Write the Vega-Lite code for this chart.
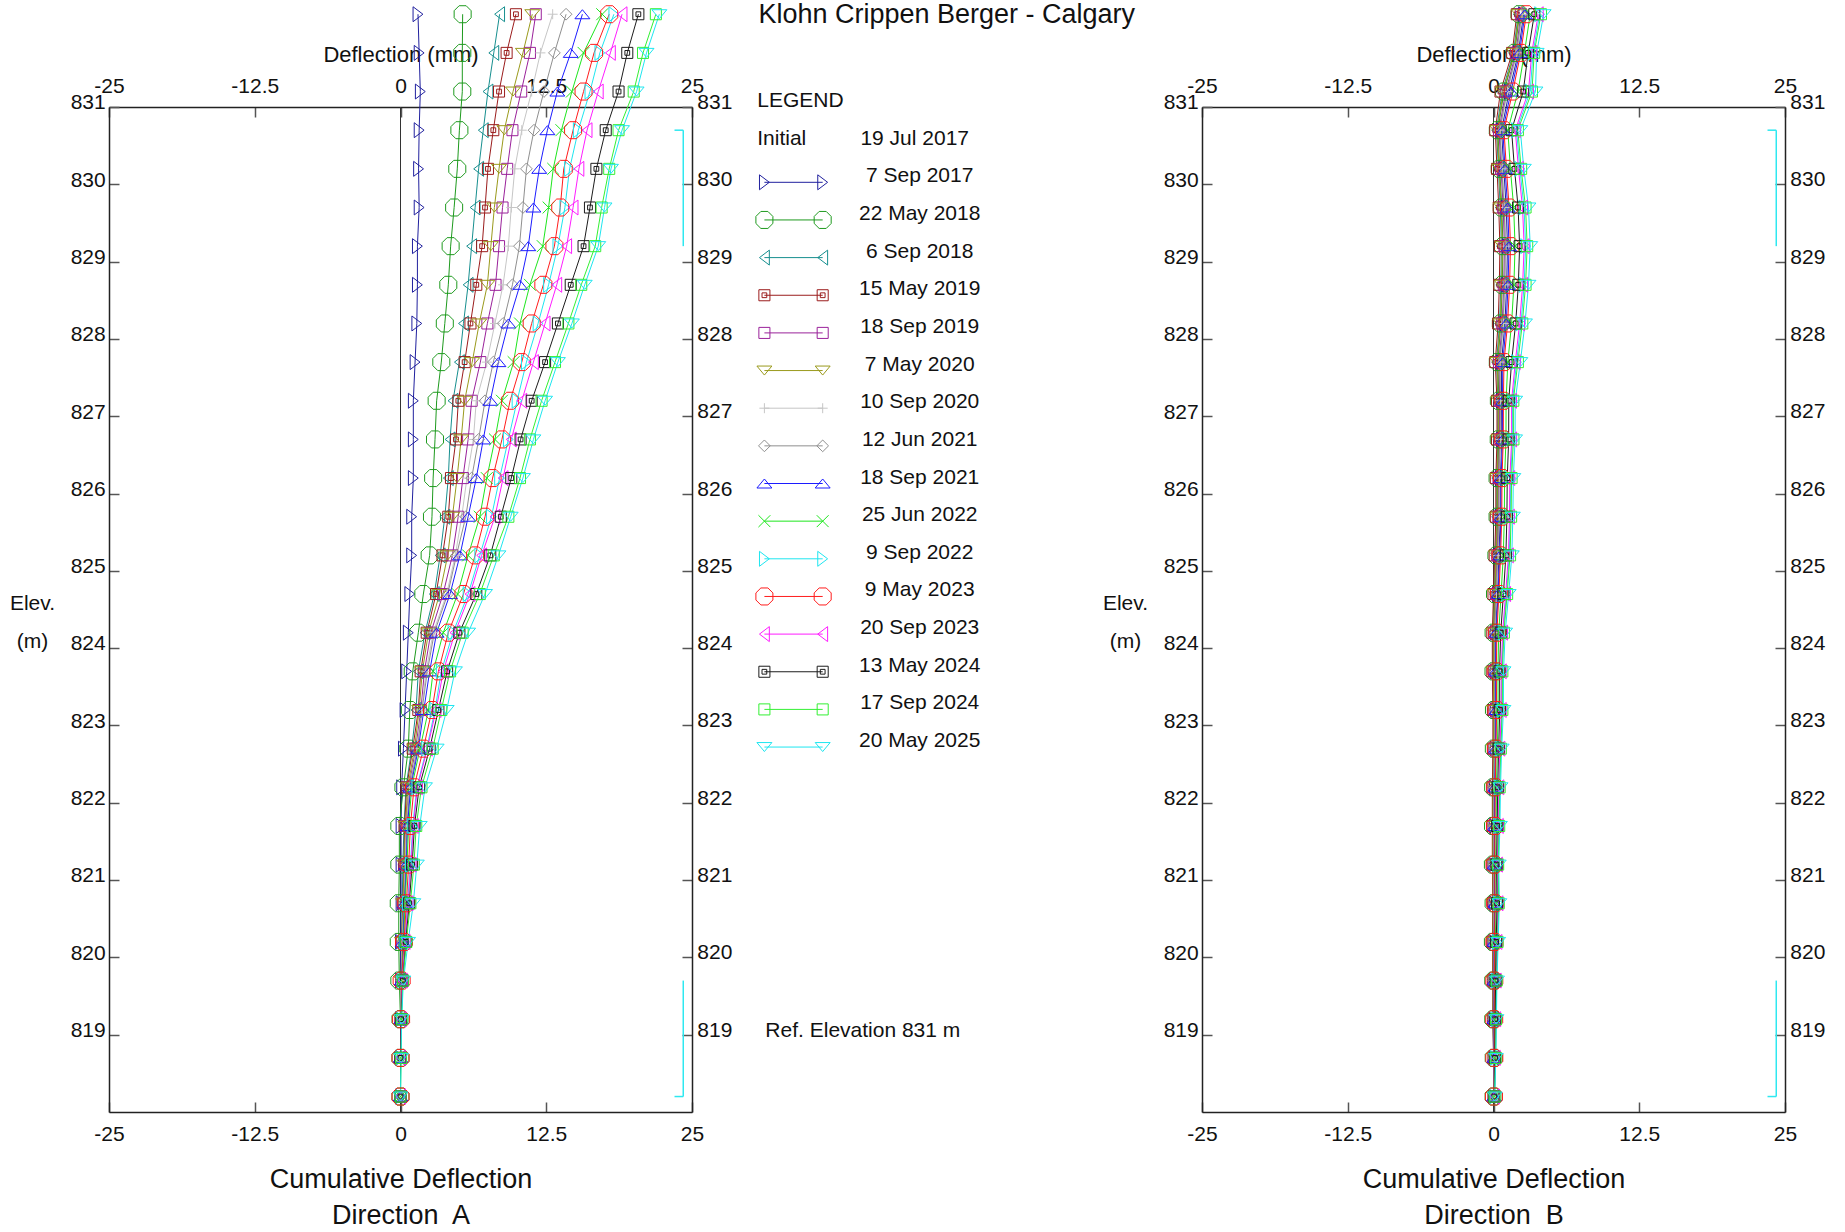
{
"$schema":"https://vega.github.io/schema/vega-lite/v6.json",
"background":"white",
"padding":{"left":9,"top":0,"right":10,"bottom":10},
"title":{"text":"Klohn Crippen Berger - Calgary","anchor":"middle","frame":"group","fontSize":27,"fontWeight":"normal","font":"Liberation Sans","color":"#111111","offset":-25,"dx":837.75},
"config":{"font":"Liberation Sans","view":{"stroke":null},
 "axis":{"labelFont":"Liberation Sans","labelFontSize":21,"labelColor":"#111111","titleFont":"Liberation Sans","titleFontWeight":"normal","titleColor":"#111111","grid":false,"domainColor":"#222222","domainWidth":1.5,"tickColor":"#555555","tickWidth":1.5,"tickSize":-10}},
"spacing":0,
"bounds":"flush",
"datasets":{
"leg":[{"d":"7 Sep 2017","k":1},{"d":"22 May 2018","k":2},{"d":"6 Sep 2018","k":3},{"d":"15 May 2019","k":4},{"d":"18 Sep 2019","k":5},{"d":"7 May 2020","k":6},{"d":"10 Sep 2020","k":7},{"d":"12 Jun 2021","k":8},{"d":"18 Sep 2021","k":9},{"d":"25 Jun 2022","k":10},{"d":"9 Sep 2022","k":11},{"d":"9 May 2023","k":12},{"d":"20 Sep 2023","k":13},{"d":"13 May 2024","k":14},{"d":"17 Sep 2024","k":15},{"d":"20 May 2025","k":16}],
"br":[{"x1":24.25,"x2":24.25,"y1":830.7,"y2":829.2},{"x1":23.5,"x2":24.25,"y1":830.7,"y2":830.7},{"x1":24.25,"x2":24.25,"y1":819.7,"y2":818.2},{"x1":23.5,"x2":24.25,"y1":818.2,"y2":818.2}],
"inc":[
{"d":"7 Sep 2017","e":818.2,"A":0,"B":0.03},{"d":"7 Sep 2017","e":818.7,"A":0,"B":0.05},{"d":"7 Sep 2017","e":819.2,"A":0,"B":0.03},{"d":"7 Sep 2017","e":819.7,"A":0,"B":0.04},{"d":"7 Sep 2017","e":820.2,"A":0,"B":0.03},{"d":"7 Sep 2017","e":820.7,"A":0.05,"B":0.09},{"d":"7 Sep 2017","e":821.2,"A":0.05,"B":0.04},{"d":"7 Sep 2017","e":821.7,"A":0.05,"B":0.06},{"d":"7 Sep 2017","e":822.2,"A":0.1,"B":0.08},{"d":"7 Sep 2017","e":822.7,"A":0.25,"B":0.14},{"d":"7 Sep 2017","e":823.2,"A":0.39,"B":0.18},{"d":"7 Sep 2017","e":823.7,"A":0.53,"B":0.14},{"d":"7 Sep 2017","e":824.2,"A":0.67,"B":0.18},{"d":"7 Sep 2017","e":824.7,"A":0.8,"B":0.33},{"d":"7 Sep 2017","e":825.2,"A":0.96,"B":0.47},{"d":"7 Sep 2017","e":825.7,"A":0.96,"B":0.57},{"d":"7 Sep 2017","e":826.2,"A":1.1,"B":0.58},{"d":"7 Sep 2017","e":826.7,"A":1.1,"B":0.7},{"d":"7 Sep 2017","e":827.2,"A":1.1,"B":0.69},{"d":"7 Sep 2017","e":827.7,"A":1.25,"B":0.69},{"d":"7 Sep 2017","e":828.2,"A":1.4,"B":0.98},{"d":"7 Sep 2017","e":828.7,"A":1.45,"B":1.13},{"d":"7 Sep 2017","e":829.2,"A":1.45,"B":1.2},{"d":"7 Sep 2017","e":829.7,"A":1.6,"B":1.09},{"d":"7 Sep 2017","e":830.2,"A":1.55,"B":0.88},{"d":"7 Sep 2017","e":830.7,"A":1.6,"B":0.69},{"d":"7 Sep 2017","e":831.2,"A":1.7,"B":1.35},{"d":"7 Sep 2017","e":831.7,"A":1.6,"B":2.13},{"d":"7 Sep 2017","e":832.2,"A":1.5,"B":2.58},
{"d":"22 May 2018","e":818.2,"A":0,"B":0.01},{"d":"22 May 2018","e":818.7,"A":0,"B":0.02},{"d":"22 May 2018","e":819.2,"A":0,"B":-0.02},{"d":"22 May 2018","e":819.7,"A":-0.1,"B":-0.02},{"d":"22 May 2018","e":820.2,"A":-0.15,"B":-0.05},{"d":"22 May 2018","e":820.7,"A":-0.15,"B":0.01},{"d":"22 May 2018","e":821.2,"A":-0.1,"B":-0.05},{"d":"22 May 2018","e":821.7,"A":-0.1,"B":-0.04},{"d":"22 May 2018","e":822.2,"A":0.25,"B":-0.03},{"d":"22 May 2018","e":822.7,"A":0.67,"B":0.03},{"d":"22 May 2018","e":823.2,"A":0.8,"B":0.04},{"d":"22 May 2018","e":823.7,"A":1.05,"B":0},{"d":"22 May 2018","e":824.2,"A":1.53,"B":0.01},{"d":"22 May 2018","e":824.7,"A":1.96,"B":0.13},{"d":"22 May 2018","e":825.2,"A":2.5,"B":0.25},{"d":"22 May 2018","e":825.7,"A":2.7,"B":0.35},{"d":"22 May 2018","e":826.2,"A":2.8,"B":0.35},{"d":"22 May 2018","e":826.7,"A":2.96,"B":0.45},{"d":"22 May 2018","e":827.2,"A":3.1,"B":0.46},{"d":"22 May 2018","e":827.7,"A":3.5,"B":0.37},{"d":"22 May 2018","e":828.2,"A":3.8,"B":0.63},{"d":"22 May 2018","e":828.7,"A":4.1,"B":0.75},{"d":"22 May 2018","e":829.2,"A":4.3,"B":0.81},{"d":"22 May 2018","e":829.7,"A":4.6,"B":0.71},{"d":"22 May 2018","e":830.2,"A":4.87,"B":0.53},{"d":"22 May 2018","e":830.7,"A":5.05,"B":0.37},{"d":"22 May 2018","e":831.2,"A":5.3,"B":0.9},{"d":"22 May 2018","e":831.7,"A":5.3,"B":1.81},{"d":"22 May 2018","e":832.2,"A":5.33,"B":2.23},
{"d":"6 Sep 2018","e":818.2,"A":0,"B":0.01},{"d":"6 Sep 2018","e":818.7,"A":0,"B":0.01},{"d":"6 Sep 2018","e":819.2,"A":0,"B":-0.04},{"d":"6 Sep 2018","e":819.7,"A":0.05,"B":-0.03},{"d":"6 Sep 2018","e":820.2,"A":0.1,"B":-0.08},{"d":"6 Sep 2018","e":820.7,"A":0.15,"B":-0.02},{"d":"6 Sep 2018","e":821.2,"A":0.2,"B":-0.07},{"d":"6 Sep 2018","e":821.7,"A":0.3,"B":-0.07},{"d":"6 Sep 2018","e":822.2,"A":0.47,"B":-0.07},{"d":"6 Sep 2018","e":822.7,"A":0.96,"B":-0.01},{"d":"6 Sep 2018","e":823.2,"A":1.33,"B":0},{"d":"6 Sep 2018","e":823.7,"A":1.53,"B":-0.05},{"d":"6 Sep 2018","e":824.2,"A":2.1,"B":-0.05},{"d":"6 Sep 2018","e":824.7,"A":2.9,"B":0.07},{"d":"6 Sep 2018","e":825.2,"A":3.4,"B":0.17},{"d":"6 Sep 2018","e":825.7,"A":3.8,"B":0.27},{"d":"6 Sep 2018","e":826.2,"A":4.1,"B":0.28},{"d":"6 Sep 2018","e":826.7,"A":4.25,"B":0.37},{"d":"6 Sep 2018","e":827.2,"A":4.5,"B":0.38},{"d":"6 Sep 2018","e":827.7,"A":5.05,"B":0.26},{"d":"6 Sep 2018","e":828.2,"A":5.4,"B":0.52},{"d":"6 Sep 2018","e":828.7,"A":5.8,"B":0.63},{"d":"6 Sep 2018","e":829.2,"A":6.1,"B":0.68},{"d":"6 Sep 2018","e":829.7,"A":6.4,"B":0.58},{"d":"6 Sep 2018","e":830.2,"A":6.7,"B":0.42},{"d":"6 Sep 2018","e":830.7,"A":7.1,"B":0.26},{"d":"6 Sep 2018","e":831.2,"A":7.5,"B":0.75},{"d":"6 Sep 2018","e":831.7,"A":8.0,"B":1.71},{"d":"6 Sep 2018","e":832.2,"A":8.5,"B":2.12},
{"d":"15 May 2019","e":818.2,"A":0,"B":0},{"d":"15 May 2019","e":818.7,"A":0,"B":0},{"d":"15 May 2019","e":819.2,"A":0,"B":-0.05},{"d":"15 May 2019","e":819.7,"A":0.05,"B":-0.05},{"d":"15 May 2019","e":820.2,"A":0.1,"B":-0.1},{"d":"15 May 2019","e":820.7,"A":0.2,"B":-0.05},{"d":"15 May 2019","e":821.2,"A":0.3,"B":-0.1},{"d":"15 May 2019","e":821.7,"A":0.35,"B":-0.1},{"d":"15 May 2019","e":822.2,"A":0.53,"B":-0.1},{"d":"15 May 2019","e":822.7,"A":1.05,"B":-0.05},{"d":"15 May 2019","e":823.2,"A":1.53,"B":-0.05},{"d":"15 May 2019","e":823.7,"A":1.73,"B":-0.1},{"d":"15 May 2019","e":824.2,"A":2.25,"B":-0.1},{"d":"15 May 2019","e":824.7,"A":3.05,"B":0},{"d":"15 May 2019","e":825.2,"A":3.6,"B":0.1},{"d":"15 May 2019","e":825.7,"A":4.1,"B":0.2},{"d":"15 May 2019","e":826.2,"A":4.33,"B":0.2},{"d":"15 May 2019","e":826.7,"A":4.76,"B":0.3},{"d":"15 May 2019","e":827.2,"A":4.96,"B":0.3},{"d":"15 May 2019","e":827.7,"A":5.5,"B":0.15},{"d":"15 May 2019","e":828.2,"A":6.0,"B":0.4},{"d":"15 May 2019","e":828.7,"A":6.5,"B":0.5},{"d":"15 May 2019","e":829.2,"A":7.0,"B":0.55},{"d":"15 May 2019","e":829.7,"A":7.25,"B":0.45},{"d":"15 May 2019","e":830.2,"A":7.5,"B":0.3},{"d":"15 May 2019","e":830.7,"A":7.96,"B":0.15},{"d":"15 May 2019","e":831.2,"A":8.45,"B":0.6},{"d":"15 May 2019","e":831.7,"A":9.1,"B":1.6},{"d":"15 May 2019","e":832.2,"A":9.9,"B":2.0},
{"d":"18 Sep 2019","e":818.2,"A":0,"B":0.02},{"d":"18 Sep 2019","e":818.7,"A":0,"B":0.03},{"d":"18 Sep 2019","e":819.2,"A":0,"B":0},{"d":"18 Sep 2019","e":819.7,"A":0.05,"B":0},{"d":"18 Sep 2019","e":820.2,"A":0.15,"B":-0.03},{"d":"18 Sep 2019","e":820.7,"A":0.25,"B":0.03},{"d":"18 Sep 2019","e":821.2,"A":0.35,"B":-0.02},{"d":"18 Sep 2019","e":821.7,"A":0.45,"B":0},{"d":"18 Sep 2019","e":822.2,"A":0.72,"B":0.01},{"d":"18 Sep 2019","e":822.7,"A":1.3,"B":0.06},{"d":"18 Sep 2019","e":823.2,"A":1.75,"B":0.09},{"d":"18 Sep 2019","e":823.7,"A":2.05,"B":0.04},{"d":"18 Sep 2019","e":824.2,"A":2.6,"B":0.07},{"d":"18 Sep 2019","e":824.7,"A":3.65,"B":0.2},{"d":"18 Sep 2019","e":825.2,"A":4.45,"B":0.32},{"d":"18 Sep 2019","e":825.7,"A":4.95,"B":0.42},{"d":"18 Sep 2019","e":826.2,"A":5.35,"B":0.43},{"d":"18 Sep 2019","e":826.7,"A":5.8,"B":0.52},{"d":"18 Sep 2019","e":827.2,"A":6.1,"B":0.53},{"d":"18 Sep 2019","e":827.7,"A":6.85,"B":0.47},{"d":"18 Sep 2019","e":828.2,"A":7.45,"B":0.75},{"d":"18 Sep 2019","e":828.7,"A":8.15,"B":0.88},{"d":"18 Sep 2019","e":829.2,"A":8.45,"B":0.94},{"d":"18 Sep 2019","e":829.7,"A":8.75,"B":0.83},{"d":"18 Sep 2019","e":830.2,"A":9.15,"B":0.65},{"d":"18 Sep 2019","e":830.7,"A":9.6,"B":0.47},{"d":"18 Sep 2019","e":831.2,"A":10.35,"B":1.05},{"d":"18 Sep 2019","e":831.7,"A":11.1,"B":1.92},{"d":"18 Sep 2019","e":832.2,"A":11.6,"B":2.35},
{"d":"7 May 2020","e":818.2,"A":0,"B":0.01},{"d":"7 May 2020","e":818.7,"A":0,"B":0.02},{"d":"7 May 2020","e":819.2,"A":0,"B":-0.03},{"d":"7 May 2020","e":819.7,"A":0.05,"B":-0.02},{"d":"7 May 2020","e":820.2,"A":0.12,"B":-0.06},{"d":"7 May 2020","e":820.7,"A":0.22,"B":-0.01},{"d":"7 May 2020","e":821.2,"A":0.32,"B":-0.06},{"d":"7 May 2020","e":821.7,"A":0.42,"B":-0.05},{"d":"7 May 2020","e":822.2,"A":0.62,"B":-0.04},{"d":"7 May 2020","e":822.7,"A":1.2,"B":0.01},{"d":"7 May 2020","e":823.2,"A":1.6,"B":0.02},{"d":"7 May 2020","e":823.7,"A":1.87,"B":-0.02},{"d":"7 May 2020","e":824.2,"A":2.4,"B":-0.01},{"d":"7 May 2020","e":824.7,"A":3.35,"B":0.1},{"d":"7 May 2020","e":825.2,"A":4.05,"B":0.22},{"d":"7 May 2020","e":825.7,"A":4.45,"B":0.32},{"d":"7 May 2020","e":826.2,"A":4.85,"B":0.32},{"d":"7 May 2020","e":826.7,"A":5.2,"B":0.42},{"d":"7 May 2020","e":827.2,"A":5.5,"B":0.42},{"d":"7 May 2020","e":827.7,"A":6.15,"B":0.32},{"d":"7 May 2020","e":828.2,"A":6.75,"B":0.58},{"d":"7 May 2020","e":828.7,"A":7.45,"B":0.7},{"d":"7 May 2020","e":829.2,"A":7.75,"B":0.76},{"d":"7 May 2020","e":829.7,"A":8.05,"B":0.65},{"d":"7 May 2020","e":830.2,"A":8.45,"B":0.48},{"d":"7 May 2020","e":830.7,"A":8.9,"B":0.32},{"d":"7 May 2020","e":831.2,"A":9.65,"B":0.84},{"d":"7 May 2020","e":831.7,"A":10.5,"B":1.77},{"d":"7 May 2020","e":832.2,"A":11.3,"B":2.18},
{"d":"10 Sep 2020","e":818.2,"A":0,"B":0.02},{"d":"10 Sep 2020","e":818.7,"A":0,"B":0.04},{"d":"10 Sep 2020","e":819.2,"A":0,"B":0.01},{"d":"10 Sep 2020","e":819.7,"A":0.05,"B":0.02},{"d":"10 Sep 2020","e":820.2,"A":0.15,"B":0},{"d":"10 Sep 2020","e":820.7,"A":0.3,"B":0.06},{"d":"10 Sep 2020","e":821.2,"A":0.4,"B":0.01},{"d":"10 Sep 2020","e":821.7,"A":0.5,"B":0.03},{"d":"10 Sep 2020","e":822.2,"A":0.76,"B":0.04},{"d":"10 Sep 2020","e":822.7,"A":1.4,"B":0.1},{"d":"10 Sep 2020","e":823.2,"A":1.8,"B":0.13},{"d":"10 Sep 2020","e":823.7,"A":2.2,"B":0.09},{"d":"10 Sep 2020","e":824.2,"A":2.8,"B":0.12},{"d":"10 Sep 2020","e":824.7,"A":3.96,"B":0.26},{"d":"10 Sep 2020","e":825.2,"A":4.7,"B":0.39},{"d":"10 Sep 2020","e":825.7,"A":5.25,"B":0.49},{"d":"10 Sep 2020","e":826.2,"A":5.7,"B":0.5},{"d":"10 Sep 2020","e":826.7,"A":6.25,"B":0.62},{"d":"10 Sep 2020","e":827.2,"A":6.5,"B":0.61},{"d":"10 Sep 2020","e":827.7,"A":7.4,"B":0.58},{"d":"10 Sep 2020","e":828.2,"A":8.1,"B":0.86},{"d":"10 Sep 2020","e":828.7,"A":8.8,"B":1.0},{"d":"10 Sep 2020","e":829.2,"A":9.25,"B":1.07},{"d":"10 Sep 2020","e":829.7,"A":9.5,"B":0.96},{"d":"10 Sep 2020","e":830.2,"A":9.8,"B":0.76},{"d":"10 Sep 2020","e":830.7,"A":10.4,"B":0.58},{"d":"10 Sep 2020","e":831.2,"A":11.25,"B":1.2},{"d":"10 Sep 2020","e":831.7,"A":12.0,"B":2.02},{"d":"10 Sep 2020","e":832.2,"A":13.05,"B":2.46},
{"d":"12 Jun 2021","e":818.2,"A":0,"B":0.02},{"d":"12 Jun 2021","e":818.7,"A":0,"B":0.03},{"d":"12 Jun 2021","e":819.2,"A":0.05,"B":0},{"d":"12 Jun 2021","e":819.7,"A":0.1,"B":0.01},{"d":"12 Jun 2021","e":820.2,"A":0.2,"B":-0.01},{"d":"12 Jun 2021","e":820.7,"A":0.3,"B":0.05},{"d":"12 Jun 2021","e":821.2,"A":0.45,"B":0},{"d":"12 Jun 2021","e":821.7,"A":0.55,"B":0.02},{"d":"12 Jun 2021","e":822.2,"A":0.8,"B":0.03},{"d":"12 Jun 2021","e":822.7,"A":1.45,"B":0.09},{"d":"12 Jun 2021","e":823.2,"A":1.85,"B":0.11},{"d":"12 Jun 2021","e":823.7,"A":2.3,"B":0.07},{"d":"12 Jun 2021","e":824.2,"A":2.9,"B":0.1},{"d":"12 Jun 2021","e":824.7,"A":4.05,"B":0.23},{"d":"12 Jun 2021","e":825.2,"A":4.8,"B":0.36},{"d":"12 Jun 2021","e":825.7,"A":5.6,"B":0.46},{"d":"12 Jun 2021","e":826.2,"A":6.1,"B":0.47},{"d":"12 Jun 2021","e":826.7,"A":6.7,"B":0.57},{"d":"12 Jun 2021","e":827.2,"A":7.25,"B":0.58},{"d":"12 Jun 2021","e":827.7,"A":7.96,"B":0.54},{"d":"12 Jun 2021","e":828.2,"A":8.8,"B":0.81},{"d":"12 Jun 2021","e":828.7,"A":9.6,"B":0.95},{"d":"12 Jun 2021","e":829.2,"A":10.2,"B":1.02},{"d":"12 Jun 2021","e":829.7,"A":10.5,"B":0.91},{"d":"12 Jun 2021","e":830.2,"A":10.8,"B":0.71},{"d":"12 Jun 2021","e":830.7,"A":11.45,"B":0.54},{"d":"12 Jun 2021","e":831.2,"A":12.3,"B":1.14},{"d":"12 Jun 2021","e":831.7,"A":13.2,"B":1.98},{"d":"12 Jun 2021","e":832.2,"A":14.2,"B":2.41},
{"d":"18 Sep 2021","e":818.2,"A":0,"B":0.03},{"d":"18 Sep 2021","e":818.7,"A":0,"B":0.06},{"d":"18 Sep 2021","e":819.2,"A":0.05,"B":0.04},{"d":"18 Sep 2021","e":819.7,"A":0.1,"B":0.06},{"d":"18 Sep 2021","e":820.2,"A":0.2,"B":0.05},{"d":"18 Sep 2021","e":820.7,"A":0.35,"B":0.12},{"d":"18 Sep 2021","e":821.2,"A":0.5,"B":0.07},{"d":"18 Sep 2021","e":821.7,"A":0.6,"B":0.1},{"d":"18 Sep 2021","e":822.2,"A":0.87,"B":0.11},{"d":"18 Sep 2021","e":822.7,"A":1.53,"B":0.18},{"d":"18 Sep 2021","e":823.2,"A":2.0,"B":0.22},{"d":"18 Sep 2021","e":823.7,"A":2.5,"B":0.19},{"d":"18 Sep 2021","e":824.2,"A":3.1,"B":0.23},{"d":"18 Sep 2021","e":824.7,"A":4.25,"B":0.39},{"d":"18 Sep 2021","e":825.2,"A":5.1,"B":0.54},{"d":"18 Sep 2021","e":825.7,"A":5.8,"B":0.64},{"d":"18 Sep 2021","e":826.2,"A":6.5,"B":0.65},{"d":"18 Sep 2021","e":826.7,"A":7.1,"B":0.78},{"d":"18 Sep 2021","e":827.2,"A":7.7,"B":0.77},{"d":"18 Sep 2021","e":827.7,"A":8.4,"B":0.8},{"d":"18 Sep 2021","e":828.2,"A":9.25,"B":1.09},{"d":"18 Sep 2021","e":828.7,"A":10.25,"B":1.25},{"d":"18 Sep 2021","e":829.2,"A":10.96,"B":1.33},{"d":"18 Sep 2021","e":829.7,"A":11.4,"B":1.22},{"d":"18 Sep 2021","e":830.2,"A":11.9,"B":0.99},{"d":"18 Sep 2021","e":830.7,"A":12.6,"B":0.8},{"d":"18 Sep 2021","e":831.2,"A":13.45,"B":1.5},{"d":"18 Sep 2021","e":831.7,"A":14.6,"B":2.23},{"d":"18 Sep 2021","e":832.2,"A":15.6,"B":2.69},
{"d":"25 Jun 2022","e":818.2,"A":0,"B":0.05},{"d":"25 Jun 2022","e":818.7,"A":0,"B":0.1},{"d":"25 Jun 2022","e":819.2,"A":0.05,"B":0.1},{"d":"25 Jun 2022","e":819.7,"A":0.1,"B":0.13},{"d":"25 Jun 2022","e":820.2,"A":0.25,"B":0.15},{"d":"25 Jun 2022","e":820.7,"A":0.4,"B":0.23},{"d":"25 Jun 2022","e":821.2,"A":0.55,"B":0.18},{"d":"25 Jun 2022","e":821.7,"A":0.7,"B":0.23},{"d":"25 Jun 2022","e":822.2,"A":0.96,"B":0.25},{"d":"25 Jun 2022","e":822.7,"A":1.67,"B":0.33},{"d":"25 Jun 2022","e":823.2,"A":2.4,"B":0.4},{"d":"25 Jun 2022","e":823.7,"A":2.8,"B":0.38},{"d":"25 Jun 2022","e":824.2,"A":3.67,"B":0.45},{"d":"25 Jun 2022","e":824.7,"A":4.9,"B":0.65},{"d":"25 Jun 2022","e":825.2,"A":5.8,"B":0.84},{"d":"25 Jun 2022","e":825.7,"A":6.8,"B":0.93},{"d":"25 Jun 2022","e":826.2,"A":7.4,"B":0.95},{"d":"25 Jun 2022","e":826.7,"A":8.1,"B":1.07},{"d":"25 Jun 2022","e":827.2,"A":8.7,"B":1.08},{"d":"25 Jun 2022","e":827.7,"A":9.7,"B":1.23},{"d":"25 Jun 2022","e":828.2,"A":10.25,"B":1.55},{"d":"25 Jun 2022","e":828.7,"A":11.1,"B":1.75},{"d":"25 Jun 2022","e":829.2,"A":12.2,"B":1.85},{"d":"25 Jun 2022","e":829.7,"A":12.7,"B":1.73},{"d":"25 Jun 2022","e":830.2,"A":13.1,"B":1.45},{"d":"25 Jun 2022","e":830.7,"A":13.8,"B":1.23},{"d":"25 Jun 2022","e":831.2,"A":14.7,"B":2.1},{"d":"25 Jun 2022","e":831.7,"A":15.7,"B":2.65},{"d":"25 Jun 2022","e":832.2,"A":17.3,"B":3.15},
{"d":"9 Sep 2022","e":818.2,"A":0,"B":0.09},{"d":"9 Sep 2022","e":818.7,"A":0,"B":0.17},{"d":"9 Sep 2022","e":819.2,"A":0.05,"B":0.21},{"d":"9 Sep 2022","e":819.7,"A":0.15,"B":0.25},{"d":"9 Sep 2022","e":820.2,"A":0.35,"B":0.33},{"d":"9 Sep 2022","e":820.7,"A":0.6,"B":0.42},{"d":"9 Sep 2022","e":821.2,"A":0.85,"B":0.37},{"d":"9 Sep 2022","e":821.7,"A":1.05,"B":0.45},{"d":"9 Sep 2022","e":822.2,"A":1.4,"B":0.5},{"d":"9 Sep 2022","e":822.7,"A":2.25,"B":0.59},{"d":"9 Sep 2022","e":823.2,"A":2.96,"B":0.72},{"d":"9 Sep 2022","e":823.7,"A":3.5,"B":0.72},{"d":"9 Sep 2022","e":824.2,"A":4.5,"B":0.84},{"d":"9 Sep 2022","e":824.7,"A":5.8,"B":1.11},{"d":"9 Sep 2022","e":825.2,"A":6.8,"B":1.35},{"d":"9 Sep 2022","e":825.7,"A":7.8,"B":1.44},{"d":"9 Sep 2022","e":826.2,"A":8.5,"B":1.48},{"d":"9 Sep 2022","e":826.7,"A":9.25,"B":1.62},{"d":"9 Sep 2022","e":827.2,"A":10.0,"B":1.63},{"d":"9 Sep 2022","e":827.7,"A":10.8,"B":1.98},{"d":"9 Sep 2022","e":828.2,"A":11.8,"B":2.36},{"d":"9 Sep 2022","e":828.7,"A":12.7,"B":2.63},{"d":"9 Sep 2022","e":829.2,"A":13.5,"B":2.76},{"d":"9 Sep 2022","e":829.7,"A":14.1,"B":2.62},{"d":"9 Sep 2022","e":830.2,"A":14.5,"B":2.26},{"d":"9 Sep 2022","e":830.7,"A":15.25,"B":1.98},{"d":"9 Sep 2022","e":831.2,"A":16.25,"B":3.15},{"d":"9 Sep 2022","e":831.7,"A":17.1,"B":3.39},{"d":"9 Sep 2022","e":832.2,"A":18.3,"B":3.96},
{"d":"9 May 2023","e":818.2,"A":0,"B":0.04},{"d":"9 May 2023","e":818.7,"A":0,"B":0.07},{"d":"9 May 2023","e":819.2,"A":0.05,"B":0.06},{"d":"9 May 2023","e":819.7,"A":0.1,"B":0.07},{"d":"9 May 2023","e":820.2,"A":0.3,"B":0.08},{"d":"9 May 2023","e":820.7,"A":0.5,"B":0.14},{"d":"9 May 2023","e":821.2,"A":0.7,"B":0.09},{"d":"9 May 2023","e":821.7,"A":0.85,"B":0.13},{"d":"9 May 2023","e":822.2,"A":1.16,"B":0.15},{"d":"9 May 2023","e":822.7,"A":1.96,"B":0.21},{"d":"9 May 2023","e":823.2,"A":2.7,"B":0.27},{"d":"9 May 2023","e":823.7,"A":3.25,"B":0.24},{"d":"9 May 2023","e":824.2,"A":4.1,"B":0.29},{"d":"9 May 2023","e":824.7,"A":5.4,"B":0.46},{"d":"9 May 2023","e":825.2,"A":6.4,"B":0.61},{"d":"9 May 2023","e":825.7,"A":7.25,"B":0.71},{"d":"9 May 2023","e":826.2,"A":7.9,"B":0.73},{"d":"9 May 2023","e":826.7,"A":8.7,"B":0.84},{"d":"9 May 2023","e":827.2,"A":9.4,"B":0.85},{"d":"9 May 2023","e":827.7,"A":10.4,"B":0.9},{"d":"9 May 2023","e":828.2,"A":11.25,"B":1.21},{"d":"9 May 2023","e":828.7,"A":12.25,"B":1.38},{"d":"9 May 2023","e":829.2,"A":13.2,"B":1.46},{"d":"9 May 2023","e":829.7,"A":13.7,"B":1.34},{"d":"9 May 2023","e":830.2,"A":14.0,"B":1.11},{"d":"9 May 2023","e":830.7,"A":14.8,"B":0.9},{"d":"9 May 2023","e":831.2,"A":15.7,"B":1.65},{"d":"9 May 2023","e":831.7,"A":16.6,"B":2.34},{"d":"9 May 2023","e":832.2,"A":17.9,"B":2.81},
{"d":"20 Sep 2023","e":818.2,"A":0,"B":0.08},{"d":"20 Sep 2023","e":818.7,"A":0,"B":0.16},{"d":"20 Sep 2023","e":819.2,"A":0.05,"B":0.19},{"d":"20 Sep 2023","e":819.7,"A":0.15,"B":0.23},{"d":"20 Sep 2023","e":820.2,"A":0.4,"B":0.3},{"d":"20 Sep 2023","e":820.7,"A":0.65,"B":0.39},{"d":"20 Sep 2023","e":821.2,"A":0.9,"B":0.34},{"d":"20 Sep 2023","e":821.7,"A":1.1,"B":0.42},{"d":"20 Sep 2023","e":822.2,"A":1.45,"B":0.46},{"d":"20 Sep 2023","e":822.7,"A":2.3,"B":0.55},{"d":"20 Sep 2023","e":823.2,"A":3.05,"B":0.67},{"d":"20 Sep 2023","e":823.7,"A":3.67,"B":0.67},{"d":"20 Sep 2023","e":824.2,"A":4.67,"B":0.78},{"d":"20 Sep 2023","e":824.7,"A":5.96,"B":1.04},{"d":"20 Sep 2023","e":825.2,"A":6.96,"B":1.28},{"d":"20 Sep 2023","e":825.7,"A":8.1,"B":1.37},{"d":"20 Sep 2023","e":826.2,"A":8.8,"B":1.4},{"d":"20 Sep 2023","e":826.7,"A":9.5,"B":1.56},{"d":"20 Sep 2023","e":827.2,"A":10.4,"B":1.55},{"d":"20 Sep 2023","e":827.7,"A":11.4,"B":1.87},{"d":"20 Sep 2023","e":828.2,"A":12.4,"B":2.24},{"d":"20 Sep 2023","e":828.7,"A":13.4,"B":2.5},{"d":"20 Sep 2023","e":829.2,"A":14.25,"B":2.63},{"d":"20 Sep 2023","e":829.7,"A":14.8,"B":2.49},{"d":"20 Sep 2023","e":830.2,"A":15.3,"B":2.14},{"d":"20 Sep 2023","e":830.7,"A":16.0,"B":1.87},{"d":"20 Sep 2023","e":831.2,"A":16.96,"B":3.0},{"d":"20 Sep 2023","e":831.7,"A":18.0,"B":3.28},{"d":"20 Sep 2023","e":832.2,"A":19.0,"B":3.84},
{"d":"13 May 2024","e":818.2,"A":0,"B":0.07},{"d":"13 May 2024","e":818.7,"A":0,"B":0.13},{"d":"13 May 2024","e":819.2,"A":0.05,"B":0.15},{"d":"13 May 2024","e":819.7,"A":0.2,"B":0.18},{"d":"13 May 2024","e":820.2,"A":0.45,"B":0.23},{"d":"13 May 2024","e":820.7,"A":0.75,"B":0.31},{"d":"13 May 2024","e":821.2,"A":1.0,"B":0.26},{"d":"13 May 2024","e":821.7,"A":1.2,"B":0.32},{"d":"13 May 2024","e":822.2,"A":1.6,"B":0.36},{"d":"13 May 2024","e":822.7,"A":2.5,"B":0.44},{"d":"13 May 2024","e":823.2,"A":3.25,"B":0.54},{"d":"13 May 2024","e":823.7,"A":4.0,"B":0.52},{"d":"13 May 2024","e":824.2,"A":5.05,"B":0.62},{"d":"13 May 2024","e":824.7,"A":6.5,"B":0.85},{"d":"13 May 2024","e":825.2,"A":7.7,"B":1.06},{"d":"13 May 2024","e":825.7,"A":8.6,"B":1.15},{"d":"13 May 2024","e":826.2,"A":9.5,"B":1.18},{"d":"13 May 2024","e":826.7,"A":10.3,"B":1.3},{"d":"13 May 2024","e":827.2,"A":11.25,"B":1.31},{"d":"13 May 2024","e":827.7,"A":12.4,"B":1.55},{"d":"13 May 2024","e":828.2,"A":13.5,"B":1.9},{"d":"13 May 2024","e":828.7,"A":14.6,"B":2.13},{"d":"13 May 2024","e":829.2,"A":15.7,"B":2.24},{"d":"13 May 2024","e":829.7,"A":16.25,"B":2.11},{"d":"13 May 2024","e":830.2,"A":16.8,"B":1.8},{"d":"13 May 2024","e":830.7,"A":17.6,"B":1.55},{"d":"13 May 2024","e":831.2,"A":18.7,"B":2.55},{"d":"13 May 2024","e":831.7,"A":19.45,"B":2.97},{"d":"13 May 2024","e":832.2,"A":20.4,"B":3.5},
{"d":"17 Sep 2024","e":818.2,"A":0,"B":0.09},{"d":"17 Sep 2024","e":818.7,"A":0.05,"B":0.18},{"d":"17 Sep 2024","e":819.2,"A":0.1,"B":0.22},{"d":"17 Sep 2024","e":819.7,"A":0.2,"B":0.27},{"d":"17 Sep 2024","e":820.2,"A":0.5,"B":0.35},{"d":"17 Sep 2024","e":820.7,"A":0.85,"B":0.45},{"d":"17 Sep 2024","e":821.2,"A":1.15,"B":0.4},{"d":"17 Sep 2024","e":821.7,"A":1.35,"B":0.49},{"d":"17 Sep 2024","e":822.2,"A":1.8,"B":0.53},{"d":"17 Sep 2024","e":822.7,"A":2.76,"B":0.63},{"d":"17 Sep 2024","e":823.2,"A":3.5,"B":0.76},{"d":"17 Sep 2024","e":823.7,"A":4.25,"B":0.76},{"d":"17 Sep 2024","e":824.2,"A":5.33,"B":0.89},{"d":"17 Sep 2024","e":824.7,"A":6.8,"B":1.17},{"d":"17 Sep 2024","e":825.2,"A":8.0,"B":1.42},{"d":"17 Sep 2024","e":825.7,"A":9.25,"B":1.51},{"d":"17 Sep 2024","e":826.2,"A":10.25,"B":1.55},{"d":"17 Sep 2024","e":826.7,"A":11.1,"B":1.71},{"d":"17 Sep 2024","e":827.2,"A":12.1,"B":1.7},{"d":"17 Sep 2024","e":827.7,"A":13.25,"B":2.09},{"d":"17 Sep 2024","e":828.2,"A":14.4,"B":2.47},{"d":"17 Sep 2024","e":828.7,"A":15.5,"B":2.75},{"d":"17 Sep 2024","e":829.2,"A":16.7,"B":2.89},{"d":"17 Sep 2024","e":829.7,"A":17.25,"B":2.75},{"d":"17 Sep 2024","e":830.2,"A":17.9,"B":2.37},{"d":"17 Sep 2024","e":830.7,"A":18.7,"B":2.09},{"d":"17 Sep 2024","e":831.2,"A":20.0,"B":3.3},{"d":"17 Sep 2024","e":831.7,"A":20.8,"B":3.49},{"d":"17 Sep 2024","e":832.2,"A":21.9,"B":4.07},
{"d":"20 May 2025","e":818.2,"A":0,"B":0.1},{"d":"20 May 2025","e":818.7,"A":0.05,"B":0.2},{"d":"20 May 2025","e":819.2,"A":0.1,"B":0.25},{"d":"20 May 2025","e":819.7,"A":0.25,"B":0.3},{"d":"20 May 2025","e":820.2,"A":0.65,"B":0.4},{"d":"20 May 2025","e":820.7,"A":1.1,"B":0.5},{"d":"20 May 2025","e":821.2,"A":1.4,"B":0.45},{"d":"20 May 2025","e":821.7,"A":1.65,"B":0.55},{"d":"20 May 2025","e":822.2,"A":2.1,"B":0.6},{"d":"20 May 2025","e":822.7,"A":3.1,"B":0.7},{"d":"20 May 2025","e":823.2,"A":3.96,"B":0.85},{"d":"20 May 2025","e":823.7,"A":4.67,"B":0.86},{"d":"20 May 2025","e":824.2,"A":5.8,"B":1.0},{"d":"20 May 2025","e":824.7,"A":7.25,"B":1.3},{"d":"20 May 2025","e":825.2,"A":8.4,"B":1.57},{"d":"20 May 2025","e":825.7,"A":9.45,"B":1.66},{"d":"20 May 2025","e":826.2,"A":10.5,"B":1.7},{"d":"20 May 2025","e":826.7,"A":11.4,"B":1.85},{"d":"20 May 2025","e":827.2,"A":12.4,"B":1.86},{"d":"20 May 2025","e":827.7,"A":13.5,"B":2.3},{"d":"20 May 2025","e":828.2,"A":14.7,"B":2.7},{"d":"20 May 2025","e":828.7,"A":15.8,"B":3.0},{"d":"20 May 2025","e":829.2,"A":16.96,"B":3.15},{"d":"20 May 2025","e":829.7,"A":17.5,"B":3.0},{"d":"20 May 2025","e":830.2,"A":18.05,"B":2.6},{"d":"20 May 2025","e":830.7,"A":19.0,"B":2.3},{"d":"20 May 2025","e":831.2,"A":20.25,"B":3.6},{"d":"20 May 2025","e":831.7,"A":21.1,"B":3.7},{"d":"20 May 2025","e":832.2,"A":22.2,"B":4.3}
]},
"hconcat":[
{"width":583,"height":1005,
 "resolve":{"axis":{"x":"independent","y":"independent"}},
 "layer":[
  {"data":{"values":[{"x":0}]},"mark":{"type":"rule","color":"#333333","strokeWidth":1},
   "encoding":{"x":{"field":"x","type":"quantitative","scale":{"domain":[-25,25],"nice":false,"zero":false},"axis":null}}},
  {"data":{"name":"br"},"mark":{"type":"rule","color":"#2ee8f0","strokeWidth":1.5},
   "encoding":{"x":{"field":"x1","type":"quantitative","axis":null},"x2":{"field":"x2"},"y":{"field":"y1","type":"quantitative","scale":{"domain":[818,831],"nice":false,"zero":false},"axis":null},"y2":{"field":"y2"}}},
  {"data":{"name":"inc"},"mark":{"type":"line","strokeWidth":1},
   "encoding":{"x":{"field":"A","type":"quantitative","axis":{"orient":"bottom","values":[-25,-12.5,0,12.5,25],"labelExpr":"''+datum.value","labelFlush":false,"labelOverlap":false,"labelPadding":21,"title":["Cumulative Deflection","Direction\u00a0 A"],"titleFontSize":27,"titleLineHeight":36.5,"titleBaseline":"alphabetic","titleY":75}},
    "y":{"field":"e","type":"quantitative","axis":{"orient":"left","values":[819,820,821,822,823,824,825,826,827,828,829,830,831],"labelPadding":13.8,"labelBaseline":"alphabetic","labelOffset":1.8,"title":["Elev.","(m)"],"titleAngle":0,"titleAlign":"center","titleBaseline":"alphabetic","titleX":-77,"titleY":502,"titleFontSize":21,"titleLineHeight":38.3}},
    "color":{"field":"d","type":"nominal","legend":null,"scale":{"domain":["7 Sep 2017","22 May 2018","6 Sep 2018","15 May 2019","18 Sep 2019","7 May 2020","10 Sep 2020","12 Jun 2021","18 Sep 2021","25 Jun 2022","9 Sep 2022","9 May 2023","20 Sep 2023","13 May 2024","17 Sep 2024","20 May 2025"],"range":["#20209e","#1e9a1e","#178f8f","#9b1c1c","#9a219a","#9a9a1c","#c6c6c6","#8f8f8f","#1c1cff","#1ee61e","#1ee6f0","#ff1c1c","#ff1cff","#1c1c1c","#33f033","#1ee6f0"]}},
    "order":{"field":"e","type":"quantitative"}}},
  {"data":{"name":"inc"},"mark":{"type":"point","filled":false,"strokeWidth":1,"size":289,"opacity":1},
   "encoding":{"x":{"field":"A","type":"quantitative","axis":{"orient":"top","values":[-25,-12.5,0,12.5,25],"labelExpr":"''+datum.value","labelFlush":false,"labelOverlap":false,"labelPadding":20.5,"title":"Deflection (mm)","titleFontSize":22,"titleY":-53,"titleBaseline":"middle"}},
    "y":{"field":"e","type":"quantitative","axis":{"orient":"right","values":[819,820,821,822,823,824,825,826,827,828,829,830,831],"labelPadding":14.8,"labelBaseline":"alphabetic","labelOffset":1.5,"title":null}},
    "color":{"field":"d","type":"nominal","legend":null},
    "shape":{"field":"d","type":"nominal","legend":null,"scale":{"domain":["7 Sep 2017","22 May 2018","6 Sep 2018","15 May 2019","18 Sep 2019","7 May 2020","10 Sep 2020","12 Jun 2021","18 Sep 2021","25 Jun 2022","9 Sep 2022","9 May 2023","20 Sep 2023","13 May 2024","17 Sep 2024","20 May 2025"],"range":["M-0.58,-0.88L0.58,0L-0.58,0.88Z","M1,0.414L0.414,1L-0.414,1L-1,0.414L-1,-0.414L-0.414,-1L0.414,-1L1,-0.414Z","M0.58,-0.88L-0.58,0L0.58,0.88Z","M-0.65,-0.65L0.65,-0.65L0.65,0.65L-0.65,0.65ZM-0.28,-0.28L0.28,-0.28L0.28,0.28L-0.28,0.28Z","M-0.65,-0.65L0.65,-0.65L0.65,0.65L-0.65,0.65Z","M-0.88,-0.53L0.88,-0.53L0,0.53Z","M-0.59,0L0.59,0M0,-0.59L0,0.59","M-0.69,0L0,-0.69L0.69,0L0,0.69Z","M-0.88,0.53L0.88,0.53L0,-0.53Z","M-0.7,-0.7L0.7,0.7M-0.7,0.7L0.7,-0.7","M-0.58,-0.88L0.58,0L-0.58,0.88Z","M1,0.414L0.414,1L-0.414,1L-1,0.414L-1,-0.414L-0.414,-1L0.414,-1L1,-0.414Z","M0.58,-0.88L-0.58,0L0.58,0.88Z","M-0.65,-0.65L0.65,-0.65L0.65,0.65L-0.65,0.65ZM-0.28,-0.28L0.28,-0.28L0.28,0.28L-0.28,0.28Z","M-0.65,-0.65L0.65,-0.65L0.65,0.65L-0.65,0.65Z","M-0.88,-0.53L0.88,-0.53L0,0.53Z"]}}}}
 ]},
{"width":509.5,"height":1005,
 "layer":[
  {"data":{"name":"leg"},"mark":{"type":"rule","strokeWidth":1},
   "encoding":{"x":{"datum":14.21,"type":"quantitative","scale":{"domain":[0,100],"nice":false,"zero":false},"axis":null},"x2":{"datum":25.65},
    "y":{"field":"k","type":"quantitative","scale":{"domain":[-1,25.693],"reverse":true,"nice":false,"zero":false},"axis":null},
    "color":{"field":"d","type":"nominal","legend":null}}},
  {"data":{"name":"leg"},"mark":{"type":"point","filled":false,"strokeWidth":1,"size":289,"opacity":1},
   "encoding":{"x":{"datum":14.21,"type":"quantitative"},"y":{"field":"k","type":"quantitative"},"color":{"field":"d","type":"nominal","legend":null},"shape":{"field":"d","type":"nominal","legend":null}}},
  {"data":{"name":"leg"},"mark":{"type":"point","filled":false,"strokeWidth":1,"size":289,"opacity":1},
   "encoding":{"x":{"datum":25.65,"type":"quantitative"},"y":{"field":"k","type":"quantitative"},"color":{"field":"d","type":"nominal","legend":null},"shape":{"field":"d","type":"nominal","legend":null}}},
  {"data":{"name":"leg"},"mark":{"type":"text","align":"center","baseline":"alphabetic","fontSize":21,"font":"Liberation Sans","color":"#111111"},
   "encoding":{"x":{"datum":44.69,"type":"quantitative"},"y":{"field":"k","type":"quantitative"},"text":{"field":"d"}}},
  {"data":{"values":[{"t":"LEGEND","k":-1},{"t":"Initial","k":0}]},"mark":{"type":"text","align":"left","baseline":"alphabetic","fontSize":21,"font":"Liberation Sans","color":"#111111"},
   "encoding":{"x":{"datum":12.8,"type":"quantitative"},"y":{"field":"k","type":"quantitative"},"text":{"field":"t"}}},
  {"data":{"values":[{"t":"19 Jul 2017","k":0}]},"mark":{"type":"text","align":"center","baseline":"alphabetic","fontSize":21,"font":"Liberation Sans","color":"#111111"},
   "encoding":{"x":{"datum":43.71,"type":"quantitative"},"y":{"field":"k","type":"quantitative"},"text":{"field":"t"}}},
  {"data":{"values":[{"t":"Ref. Elevation 831 m","k":23.71}]},"mark":{"type":"text","align":"left","baseline":"alphabetic","fontSize":21,"font":"Liberation Sans","color":"#111111"},
   "encoding":{"x":{"datum":14.4,"type":"quantitative"},"y":{"field":"k","type":"quantitative"},"text":{"field":"t"}}}
 ]},
{"width":583,"height":1005,
 "resolve":{"axis":{"x":"independent","y":"independent"}},
 "layer":[
  {"data":{"values":[{"x":0}]},"mark":{"type":"rule","color":"#333333","strokeWidth":1},
   "encoding":{"x":{"field":"x","type":"quantitative","scale":{"domain":[-25,25],"nice":false,"zero":false},"axis":null}}},
  {"data":{"name":"br"},"mark":{"type":"rule","color":"#2ee8f0","strokeWidth":1.5},
   "encoding":{"x":{"field":"x1","type":"quantitative","axis":null},"x2":{"field":"x2"},"y":{"field":"y1","type":"quantitative","scale":{"domain":[818,831],"nice":false,"zero":false},"axis":null},"y2":{"field":"y2"}}},
  {"data":{"name":"inc"},"mark":{"type":"line","strokeWidth":1},
   "encoding":{"x":{"field":"B","type":"quantitative","axis":{"orient":"bottom","values":[-25,-12.5,0,12.5,25],"labelExpr":"''+datum.value","labelFlush":false,"labelOverlap":false,"labelPadding":21,"title":["Cumulative Deflection","Direction\u00a0 B"],"titleFontSize":27,"titleLineHeight":36.5,"titleBaseline":"alphabetic","titleY":75}},
    "y":{"field":"e","type":"quantitative","axis":{"orient":"left","values":[819,820,821,822,823,824,825,826,827,828,829,830,831],"labelPadding":13.8,"labelBaseline":"alphabetic","labelOffset":1.8,"title":["Elev.","(m)"],"titleAngle":0,"titleAlign":"center","titleBaseline":"alphabetic","titleX":-77,"titleY":502,"titleFontSize":21,"titleLineHeight":38.3}},
    "color":{"field":"d","type":"nominal","legend":null},
    "order":{"field":"e","type":"quantitative"}}},
  {"data":{"name":"inc"},"mark":{"type":"point","filled":false,"strokeWidth":1,"size":289,"opacity":1},
   "encoding":{"x":{"field":"B","type":"quantitative","axis":{"orient":"top","values":[-25,-12.5,0,12.5,25],"labelExpr":"''+datum.value","labelFlush":false,"labelOverlap":false,"labelPadding":20.5,"title":"Deflection (mm)","titleFontSize":22,"titleY":-53,"titleBaseline":"middle"}},
    "y":{"field":"e","type":"quantitative","axis":{"orient":"right","values":[819,820,821,822,823,824,825,826,827,828,829,830,831],"labelPadding":14.8,"labelBaseline":"alphabetic","labelOffset":1.5,"title":null}},
    "color":{"field":"d","type":"nominal","legend":null},
    "shape":{"field":"d","type":"nominal","legend":null}}}
 ]}
]
}
